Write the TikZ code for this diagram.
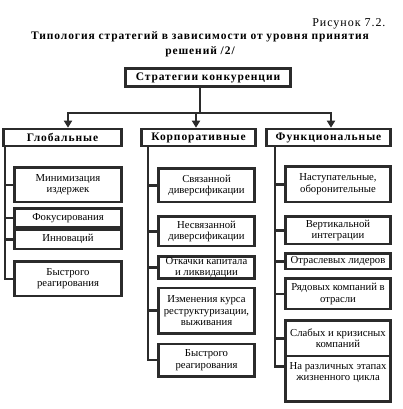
\documentclass[tikz,border=0pt]{standalone}
\usepackage{fontspec}
\setmainfont{Liberation Serif}
\newfontfamily\widefont{Liberation Serif}[LetterSpace=8]
\usetikzlibrary{positioning, arrows.meta, calc}
\definecolor{ink}{HTML}{2B2B2B}
\newcommand{\boxfont}{\fontsize{10.7}{11.5}\selectfont}
\newcommand{\headfont}{\widefont\fontsize{11.5}{13}\selectfont\bfseries}

\begin{document}
\begin{tikzpicture}[x=1pt, y=-1pt,
    every node/.style={font=\boxfont, text=black},
    box/.style={draw=ink, line width=2.6pt, inner sep=0.5pt, align=center},
    level/.style={box, font=\headfont, minimum height=17pt},
    gitem/.style={box, minimum width=107.4pt, minimum height=#1},
    citem/.style={box, minimum width=96.4pt, minimum height=#1},
    fitem/.style={box, minimum width=105.4pt, minimum height=#1},
    line/.style={draw=ink, line width=2.6pt},
    arrow/.style={line, -{Triangle[width=8pt, length=7pt]}}
]
  \useasboundingbox (0,0) rectangle (402,409);

  % headings
  \node[anchor=east, font=\widefont\fontsize{12}{13}\selectfont] (fig) at (389,23.5) {Рисунок 7.2.};
  \node[align=center, font=\widefont\fontsize{11.5}{15}\selectfont\bfseries] (title) at (200,44.5)
    {Типология стратегий в зависимости от уровня принятия\\решений /2/};

  % root and levels
  \node[box, font=\headfont, minimum width=165.4pt, minimum height=18.4pt] (root) at (208,77.5) {Стратегии конкуренции};
  \node[level, minimum width=118.4pt] (glob) at (62.5,137.5) {Глобальные};
  \node[level, minimum width=114.4pt, right=17pt of glob] (corp) {Корпоративные};
  \node[level, minimum width=124.4pt, right=8pt of corp] (func) {Функциональные};

  % global
  \node[gitem=34.4pt, below=19pt of glob.south east, anchor=north east] (g1) {Минимизация\\издержек};
  \node[gitem=18.4pt, below=4pt of g1] (g2) {Фокусирования};
  \node[gitem=19.4pt, below=0pt of g2] (g3) {Инноваций};
  \node[gitem=34.4pt, below=10pt of g3] (g4) {Быстрого\\реагирования};

  % corporate
  \node[citem=33.4pt, below=20pt of corp.south east, anchor=north east, xshift=-1pt] (c1) {Связанной\\диверсификации};
  \node[citem=29.4pt, below=12pt of c1] (c2) {Несвязанной\\диверсификации};
  \node[citem=20.4pt, below=8pt of c2] (c3) {Откачки капитала\\и ликвидации};
  \node[citem=45.4pt, below=7pt of c3] (c4) {Изменения курса\\реструктуризации,\\выживания};
  \node[citem=32.4pt, below=8pt of c4] (c5) {Быстрого\\реагирования};

  % functional
  \node[fitem=35.4pt, below=18pt of func.south east, anchor=north east] (f1) {Наступательные,\\оборонительные};
  \node[fitem=27.4pt, below=12pt of f1] (f2) {Вертикальной\\интеграции};
  \node[fitem=15.4pt, below=7pt of f2] (f3) {Отраслевых лидеров};
  \node[fitem=30.4pt, below=7pt of f3] (f4) {Рядовых компаний в\\отрасли};
  \node[fitem=35.4pt, below=9pt of f4] (f5) {Слабых и кризисных\\компаний};
  \node[fitem=45.4pt, text depth=14pt, below=-2.6pt of f5] (f6) {На различных этапах\\жизненного цикла};

  % connectors from the root
  \coordinate (bus) at (200,113);
  \draw[line] (root.south -| bus) -- (bus);
  \draw[arrow] (bus) -| ([xshift=5.5pt]glob.north);
  \draw[arrow] (bus) -| ([xshift=-2.5pt]corp.north);
  \draw[arrow] (bus) -| ([xshift=2.5pt]func.north);

  % tree lines
  \coordinate (gtop) at ([xshift=3pt, yshift=2pt]glob.south west);
  \coordinate (ctop) at ([xshift=8pt, yshift=2pt]corp.south west);
  \coordinate (ftop) at ([xshift=10pt, yshift=2pt]func.south west);
  \coordinate (f6tick) at ($(f6.north west)!0.25!(f6.south west)$);

  \draw[line] (gtop) |- (g4.west);
  \foreach \n in {g1,g2,g3}
    \draw[line] (\n.west) -- (\n.west -| gtop);
  \draw[line] (ctop) |- (c5.west);
  \foreach \n in {c1,c2,c3,c4}
    \draw[line] (\n.west) -- (\n.west -| ctop);
  \draw[line] (ftop) |- (f6tick);
  \foreach \n in {f1,f2,f3,f4,f5}
    \draw[line] (\n.west) -- (\n.west -| ftop);
\end{tikzpicture}
\end{document}
